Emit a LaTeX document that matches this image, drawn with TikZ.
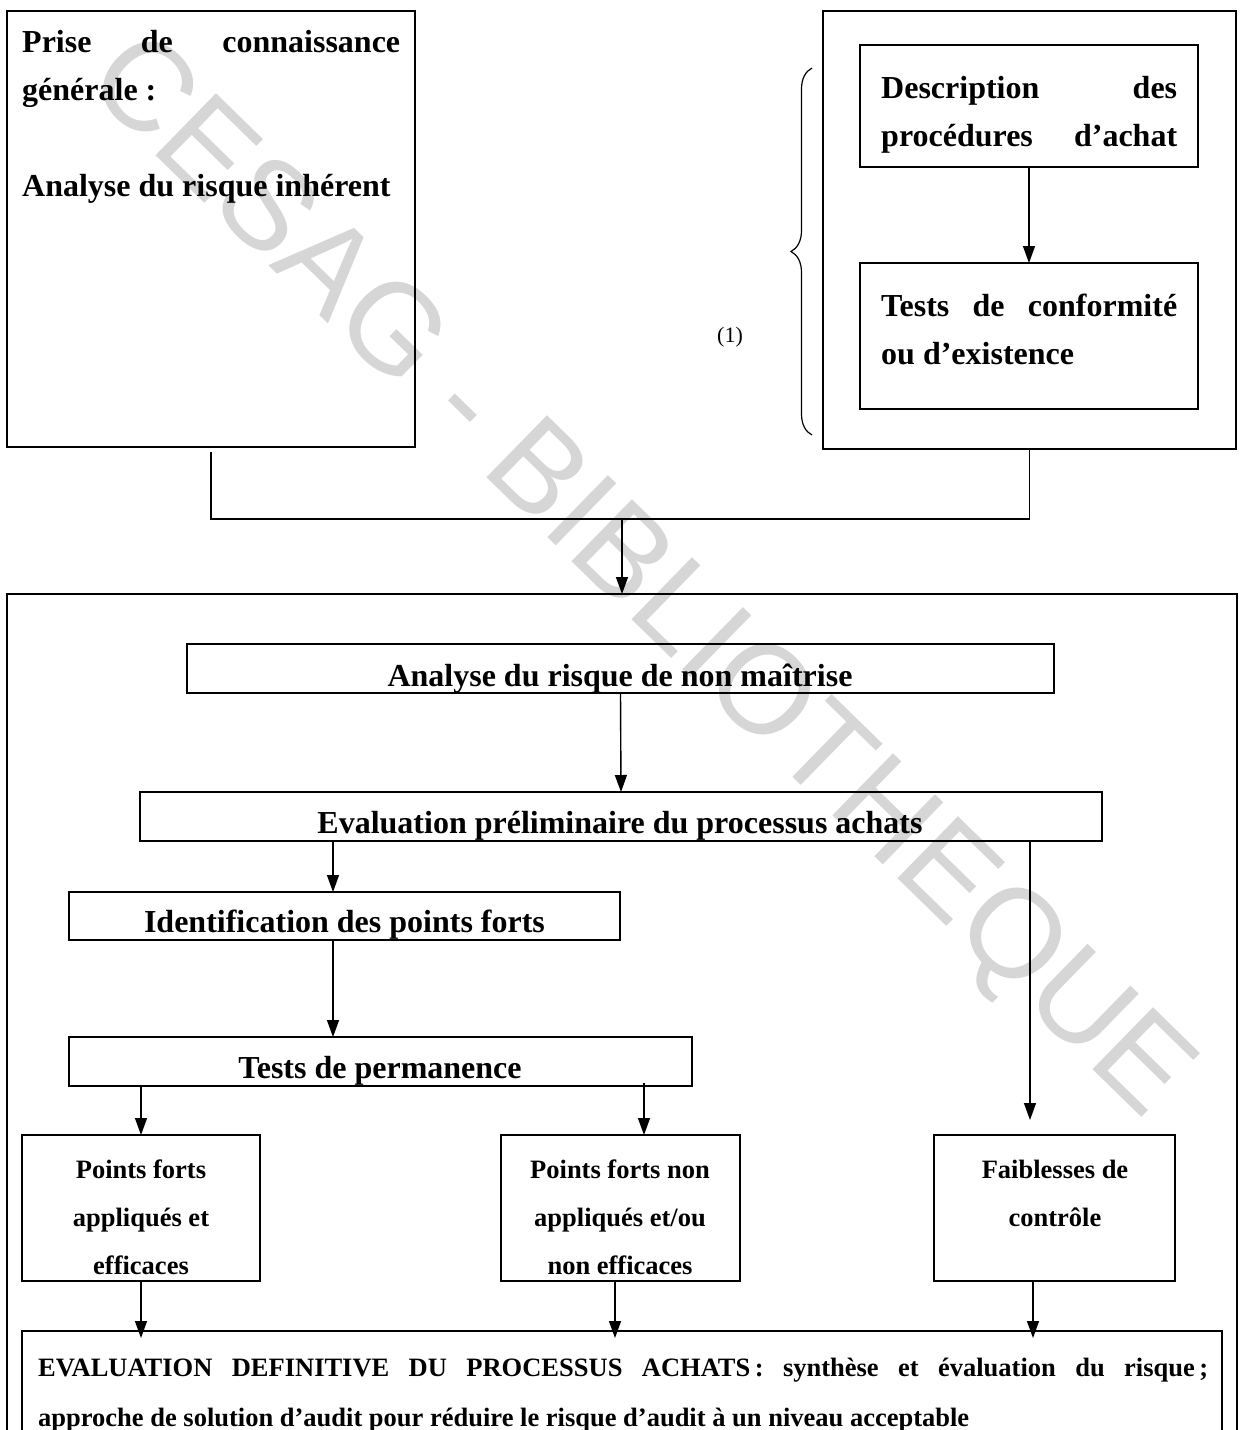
\documentclass[tikz,border=0pt]{standalone}
\usepackage{fontspec}
\setmainfont{Liberation Serif}
\newfontfamily\wmfont{Liberation Sans}
\usetikzlibrary{arrows.meta,decorations.pathreplacing}
\begin{document}
\begin{tikzpicture}[x=1pt,y=-1pt,
 box/.style={draw, line width=1.4pt, inner sep=0pt, outer sep=0pt},
 conn/.style={line width=1.4pt},
 arr/.style={line width=1.4pt, -{Triangle[length=17pt,width=12pt]}},
 bigt/.style={inner sep=0pt, anchor=base west, font=\bfseries\fontsize{32}{48}\selectfont},
 bigc/.style={inner sep=0pt, anchor=base, font=\bfseries\fontsize{32}{48}\selectfont},
 smallt/.style={inner sep=0pt, anchor=base, font=\bfseries\fontsize{26.5}{48}\selectfont},
 wm/.style={inner sep=0pt, text=gray!32, font=\wmfont\fontsize{126}{126}\selectfont},
]
\useasboundingbox (0,0) rectangle (1241,1430);
\clip (0,0) rectangle (1241,1430);
\fill[white] (0,0) rectangle (1241,1430);

% watermark
\node[wm, rotate=-44.3] (wmk) at (637,580) {CESAG - BIBLIOTHEQUE};

% top boxes
\node[box, minimum width=408pt, minimum height=436pt] (pcg) at (211,229) {};
\node[box, minimum width=413pt, minimum height=438pt] (rgt) at (1029.5,230) {};
\node[box, minimum width=338pt, minimum height=122pt] (desc) at (1029,106) {};
\node[box, minimum width=338pt, minimum height=146pt] (tcon) at (1029,336) {};

\node[bigt] (t1) at (22,52) {\parbox[t]{378pt}{Prise\hfill de\hfill connaissance\\générale :\\[48pt]Analyse du risque inhérent}};
\node[bigt] (t2) at (881,98) {\parbox[t]{296pt}{Description\hfill des\\procédures\hfill d’achat}};
\node[bigt] (t3) at (881,316) {\parbox[t]{296pt}{Tests\hfill de\hfill conformité\\ou d’existence}};

\draw[arr] (desc.south) -- (tcon.north);

% brace and (1)
\draw[decorate, decoration={brace, amplitude=21pt}, line width=1.2pt] (812,435) -- (812,68);
\node[inner sep=0pt, font=\fontsize{22}{26}\selectfont] (one) at (730,337) {(1)};

% bottom container
\node[box, minimum width=1230pt, minimum height=876pt] (big) at (622,1032) {};
\node[box, minimum width=867pt, minimum height=49pt] (anm) at (620.5,668.5) {};
\node[box, minimum width=962pt, minimum height=49pt] (evp) at (621,816.5) {};
\node[box, minimum width=551pt, minimum height=48pt] (idp) at (344.5,916) {};
\node[box, minimum width=623pt, minimum height=49pt] (tdp) at (380.5,1061.5) {};
\node[box, minimum width=238pt, minimum height=146pt] (pfa) at (141,1208) {};
\node[box, minimum width=239pt, minimum height=146pt] (pfn) at (620.5,1208) {};
\node[box, minimum width=241pt, minimum height=146pt] (fdc) at (1054.5,1208) {};
\node[box, minimum width=1200pt, minimum height=139pt] (fin) at (622,1400.5) {};

\node[bigc] (t4) at (620,686) {Analyse du risque de non maîtrise};
\node[bigc] (t5) at (620,833) {Evaluation préliminaire du processus achats};
\node[bigc] (t6) at (344.5,932) {Identification des points forts};
\node[bigc] (t7) at (380,1078) {Tests de permanence};

\node[smallt] (t8) at (141,1178) {\parbox[t]{230pt}{\centering Points forts\\appliqués et\\efficaces}};
\node[smallt] (t9) at (620,1178) {\parbox[t]{230pt}{\centering Points forts non\\appliqués et/ou\\non efficaces}};
\node[smallt] (t10) at (1055,1178) {\parbox[t]{230pt}{\centering Faiblesses de\\contrôle}};

\node[inner sep=0pt, anchor=base west, font=\bfseries\fontsize{26.5}{50}\selectfont] (t11) at (38,1376)
 {\parbox[t]{1170pt}{\makebox[1170pt][s]{EVALUATION DEFINITIVE DU PROCESSUS ACHATS\,: synthèse et évaluation du risque\,;}\\approche de solution d’audit pour réduire le risque d’audit à un niveau acceptable}};

% connectors
\coordinate (jn) at (622,519);
\coordinate (cA) at (333,0);
\coordinate (cB) at (644,0);
\coordinate (cC) at (1030,0);
\coordinate (cD) at (615,0);
\coordinate (cE) at (1033,0);
\draw[conn] ([yshift=-5pt]pcg.south) |- (jn) -| (rgt.south);
\draw[arr] (jn) -- (big.north);
\draw[arr] (anm.south) -- (evp.north);
\draw[arr] (evp.south -| cA) -- (idp.north -| cA);
\draw[arr] (idp.south -| cA) -- (tdp.north -| cA);
\draw[arr] (tdp.south -| pfa.north) -- (pfa.north);
\draw[arr] ([yshift=3pt]tdp.south -| cB) -- (pfn.north -| cB);
\draw[arr] (evp.south -| cC) -- ([yshift=15pt]fdc.north -| cC);
\draw[arr] (pfa.south) -- ([yshift=-7pt]fin.north -| pfa.south);
\draw[arr] (pfn.south -| cD) -- ([yshift=-7pt]fin.north -| cD);
\draw[arr] (fdc.south -| cE) -- ([yshift=-7pt]fin.north -| cE);
\end{tikzpicture}
\end{document}
